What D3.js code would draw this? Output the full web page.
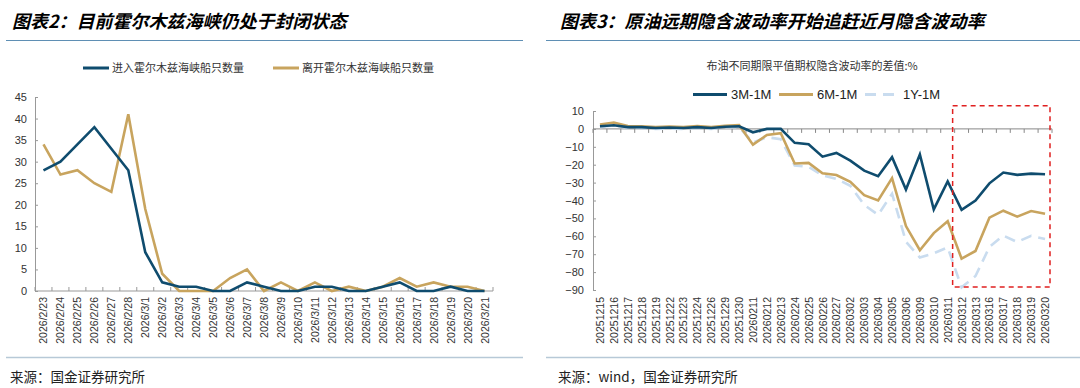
<!DOCTYPE html>
<html>
<head>
<meta charset="utf-8">
<script src="https://cdn.jsdelivr.net/npm/d3@7"></script>
<style>
  body { margin: 0; background: #fff; }
  svg text { font-family: "Liberation Sans", Arial, sans-serif; }
  .cjk { font-family: "Noto Sans CJK SC", sans-serif; }
</style>
</head>
<body>
<svg id="chart" width="1080" height="388"></svg>
<script>
// ---- left chart data: ships through Hormuz ----
var shipDates = ["2026/2/23","2026/2/24","2026/2/25","2026/2/26","2026/2/27","2026/2/28",
  "2026/3/1","2026/3/2","2026/3/3","2026/3/4","2026/3/5","2026/3/6","2026/3/7","2026/3/8",
  "2026/3/9","2026/3/10","2026/3/11","2026/3/12","2026/3/13","2026/3/14","2026/3/15",
  "2026/3/16","2026/3/17","2026/3/18","2026/3/19","2026/3/20","2026/3/21"];
var shipsIn  = [28,30,34,38,33,28,9,2,1,1,0,0,2,1,0,0,1,1,0,0,1,2,0,0,1,0,0];
var shipsOut = [34,27,28,25,23,41,19,4,0,0,0,3,5,0,2,0,2,0,1,0,1,3,1,2,1,1,0];
var shipTicks = [0,5,10,15,20,25,30,35,40,45];

// ---- right chart data: brent implied vol spreads ----
var volDates = ["20251215","20251216","20251217","20251218","20251219","20251222","20251223",
  "20251224","20251226","20251229","20251230","20260211","20260212","20260213","20260224",
  "20260225","20260226","20260227","20260302","20260303","20260304","20260305","20260306",
  "20260309","20260310","20260311","20260312","20260313","20260316","20260317","20260318",
  "20260319","20260320"];
var vol3m = [1.5,2,1,1,0.5,0.8,0.5,1,0.5,1.2,1.5,-1.9,0,0,-7.8,-8.6,-15.5,-13.4,-17.7,-23.3,
  -26.4,-15.8,-33.9,-14.3,-45,-29.4,-45.2,-40,-30.4,-24.4,-25.7,-25,-25.3];
var vol6m = [2.5,3.6,1.6,1.5,1.1,1.3,1,1.6,1.1,1.8,2.2,-8.8,-3.4,-2.4,-19.3,-19,-24.8,-25.8,
  -29.6,-37,-40,-27.5,-54.3,-67.8,-58.2,-51.6,-72.5,-68.2,-49.6,-45.7,-49,-45.9,-47.4];
var vol1y = [1,2,0.5,0.5,0,0.2,0,0.5,0,1,1,-7.6,-4.6,-5.8,-20.4,-21.2,-26,-27.9,-31.8,-42.5,
  -48,-36.2,-63,-71.8,-69.5,-66.2,-88.5,-82.2,-66,-59.6,-63.2,-59.7,-61.5];
var volTicks = [10,0,-10,-20,-30,-40,-50,-60,-70,-80,-90];

var BLUE = "#0f4c6e", GOLD = "#c8a45e", LIGHT = "#c9dcef";

var svg = d3.select("#chart");

// ---- headers and footers ----
svg.append("text").attr("class", "cjk").attr("x", 12).attr("y", 28)
  .style("font-size", "18px").style("font-weight", "bold").style("font-style", "italic")
  .text("图表2：目前霍尔木兹海峡仍处于封闭状态");
svg.append("text").attr("class", "cjk").attr("x", 560).attr("y", 28)
  .style("font-size", "18px").style("font-weight", "bold").style("font-style", "italic")
  .text("图表3：原油远期隐含波动率开始追赶近月隐含波动率");
svg.append("line").attr("x1", 6).attr("x2", 523).attr("y1", 40.5).attr("y2", 40.5)
  .attr("stroke", "#5f8fb4").attr("stroke-width", 1.2);
svg.append("line").attr("x1", 546).attr("x2", 1080).attr("y1", 40.5).attr("y2", 40.5)
  .attr("stroke", "#5f8fb4").attr("stroke-width", 1.2);
svg.append("line").attr("x1", 6).attr("x2", 523).attr("y1", 357.5).attr("y2", 357.5)
  .attr("stroke", "#b7c9d7").attr("stroke-width", 1.5);
svg.append("line").attr("x1", 546).attr("x2", 1080).attr("y1", 357.5).attr("y2", 357.5)
  .attr("stroke", "#b7c9d7").attr("stroke-width", 1.5);
svg.append("text").attr("class", "cjk").attr("x", 10).attr("y", 382)
  .style("font-size", "13.5px").attr("fill", "#222").text("来源：国金证券研究所");
svg.append("text").attr("class", "cjk").attr("x", 558).attr("y", 382)
  .style("font-size", "13.5px").attr("fill", "#222").text("来源：wind，国金证券研究所");

// ================= left chart =================
var xL = d3.scaleBand().domain(shipDates).range([35, 493]);
var yL = d3.scaleLinear().domain([0, 45]).range([291, 97]);

var gL = svg.append("g");

// y ticks point inward
gL.append("g")
  .attr("transform", "translate(35,0)")
  .call(d3.axisLeft(yL).tickValues(shipTicks).tickSize(-3).tickSizeOuter(0))
  .call(function(g) {
    g.select(".domain").attr("stroke", "#999");
    g.selectAll(".tick line").attr("stroke", "#999");
    g.selectAll("text").attr("fill", "#333").style("font-size", "11px").attr("x", -8);
  });

// x axis with ticks at category boundaries, pointing up
gL.append("line").attr("x1", 35).attr("x2", 493).attr("y1", yL(0)).attr("y2", yL(0))
  .attr("stroke", "#999");
gL.selectAll(".xtick").data(shipDates.concat(["end"])).enter().append("line")
  .attr("x1", function(d) { return d == "end" ? 493 : xL(d); })
  .attr("x2", function(d) { return d == "end" ? 493 : xL(d); })
  .attr("y1", yL(0)).attr("y2", yL(0) - 4).attr("stroke", "#999");
gL.selectAll(".xlab").data(shipDates).enter().append("text")
  .attr("transform", function(d) {
    return "translate(" + (xL(d) + xL.bandwidth() / 2 + 4) + ",297) rotate(-90)";
  })
  .attr("text-anchor", "end").style("font-size", "10.5px").attr("fill", "#333")
  .text(function(d) { return d; });

var lineL = d3.line()
  .x(function(d, i) { return xL(shipDates[i]) + xL.bandwidth() / 2; })
  .y(function(d) { return yL(d); });

gL.append("path").datum(shipsOut).attr("d", lineL)
  .attr("fill", "none").attr("stroke", GOLD).attr("stroke-width", 2.6);
gL.append("path").datum(shipsIn).attr("d", lineL)
  .attr("fill", "none").attr("stroke", BLUE).attr("stroke-width", 2.6);

// legend
var legL = [{name: "进入霍尔木兹海峡船只数量", color: BLUE, x: 83},
            {name: "离开霍尔木兹海峡船只数量", color: GOLD, x: 273}];
legL.forEach(function(l) {
  gL.append("line").attr("x1", l.x).attr("x2", l.x + 26).attr("y1", 68).attr("y2", 68)
    .attr("stroke", l.color).attr("stroke-width", 3);
  gL.append("text").attr("class", "cjk").attr("x", l.x + 29).attr("y", 72)
    .style("font-size", "11px").attr("fill", "#333").text(l.name);
});

// ================= right chart =================
var xR = d3.scaleBand().domain(volDates).range([593, 1052]);
var yR = d3.scaleLinear().domain([-90, 10]).range([290, 111]);
var gR = svg.append("g");

svg.append("text").attr("class", "cjk").attr("x", 812).attr("y", 70)
  .attr("text-anchor", "middle").style("font-size", "11px").attr("fill", "#333")
  .text("布油不同期限平值期权隐含波动率的差值:%");

gR.append("g")
  .attr("transform", "translate(593,0)")
  .call(d3.axisLeft(yR).tickValues(volTicks).tickSize(-3).tickSizeOuter(0))
  .call(function(g) {
    g.select(".domain").attr("stroke", "#999");
    g.selectAll(".tick line").attr("stroke", "#999");
    g.selectAll("text").attr("fill", "#333").style("font-size", "11px").attr("x", -9);
  });

gR.append("line").attr("x1", 593).attr("x2", 1052).attr("y1", yR(0)).attr("y2", yR(0))
  .attr("stroke", "#888");
gR.selectAll(".xtick").data(volDates.concat(["end"])).enter().append("line")
  .attr("x1", function(d) { return d == "end" ? 1052 : xR(d); })
  .attr("x2", function(d) { return d == "end" ? 1052 : xR(d); })
  .attr("y1", yR(0)).attr("y2", yR(0) + 4).attr("stroke", "#888");
gR.selectAll(".xlab").data(volDates).enter().append("text")
  .attr("transform", function(d) {
    return "translate(" + (xR(d) + xR.bandwidth() / 2 + 4) + ",297) rotate(-90)";
  })
  .attr("text-anchor", "end").style("font-size", "10.5px").attr("fill", "#333")
  .text(function(d) { return d; });

var lineR = d3.line()
  .x(function(d, i) { return xR(volDates[i]) + xR.bandwidth() / 2; })
  .y(function(d) { return yR(d); });

gR.append("path").datum(vol1y).attr("d", lineR)
  .attr("fill", "none").attr("stroke", LIGHT).attr("stroke-width", 2.6)
  .attr("stroke-dasharray", "11,7");
gR.append("path").datum(vol6m).attr("d", lineR)
  .attr("fill", "none").attr("stroke", GOLD).attr("stroke-width", 2.6);
gR.append("path").datum(vol3m).attr("d", lineR)
  .attr("fill", "none").attr("stroke", BLUE).attr("stroke-width", 2.6);

// red highlight box
var boxX = xR("20260312") - 2;
gR.append("rect").attr("x", boxX).attr("y", yR(13))
  .attr("width", 1050 - boxX).attr("height", yR(-88.3) - yR(13))
  .attr("fill", "none").attr("stroke", "#e02020").attr("stroke-width", 1.5)
  .attr("stroke-dasharray", "5,4");

// legend
var legR = [{name: "3M-1M", color: BLUE, x: 693, dash: null},
            {name: "6M-1M", color: GOLD, x: 779, dash: null},
            {name: "1Y-1M", color: LIGHT, x: 865, dash: "11,7"}];
legR.forEach(function(l) {
  gR.append("line").attr("x1", l.x).attr("x2", l.x + 34).attr("y1", 94.5).attr("y2", 94.5)
    .attr("stroke", l.color).attr("stroke-width", 3)
    .attr("stroke-dasharray", l.dash);
  gR.append("text").attr("x", l.x + 38).attr("y", 99)
    .style("font-size", "13px").attr("fill", "#222").text(l.name);
});
</script>
</body>
</html>
